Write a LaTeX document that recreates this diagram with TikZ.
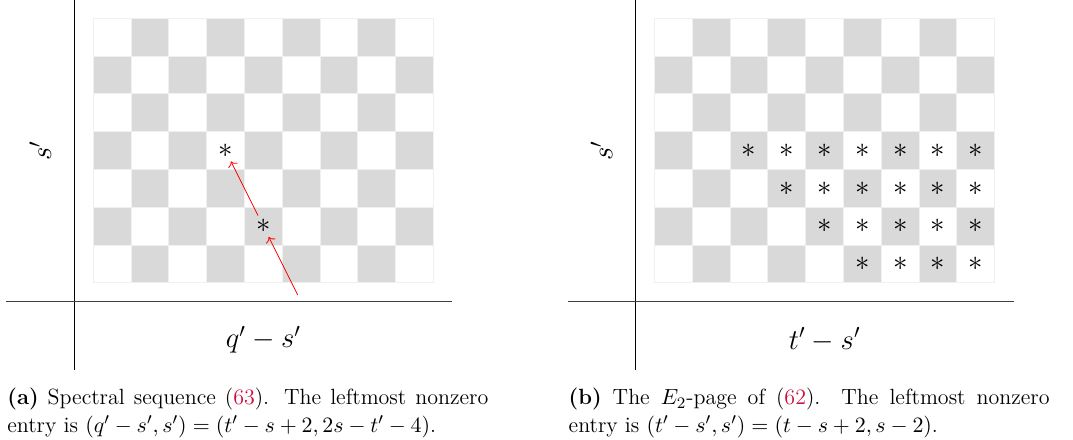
\documentclass[tikz,border=0pt]{standalone}
\usepackage{amsmath,amssymb}
\usepackage{xcolor}
\usepackage{tikz}
\usetikzlibrary{arrows.meta,positioning}
\definecolor{linkred}{rgb}{0.80,0.05,0.25}

\begin{document}
\begin{tikzpicture}[x=18.9pt,y=18.9pt,
entry/.style={font=\Large,inner sep=1.8pt},
axlabel/.style={font=\Large},
axisline/.style={line width=0.6pt},
capt/.style={text width=240.5pt,align=justify,inner sep=0pt,anchor=north west,font=\fontsize{11}{13.6}\selectfont}]
\useasboundingbox (-2.468,-4.153) rectangle (25.92,7.487);

% (a) spectral sequence
\foreach \i in {0,...,8}
  \foreach \j in {0,...,6}{
    \pgfmathtruncatemacro\shade{mod(\i+\j,2)}
    \ifnum\shade=1 \fill[black!15] (\i,\j) rectangle ++(1,1); \fi
  }
\draw[black!6,line width=0.5pt,step={(1,1)}] (0,0) grid (9,7);
\draw[axisline] (-0.5,7.5) -- (-0.5,-2.3);
\draw[axisline,black!75] (-2.3,-0.5) -- (9.5,-0.5);
\node[axlabel,rotate=90] (sa) at (-1.4,3.5) {$s'$};
\node[axlabel] (qa) at (4.5,-1.5) {$q'-s'$};
\node[entry] (a1) at (3.5,3.5) {$\ast$};
\node[entry] (a2) at (4.5,1.5) {$\ast$};
\node (a0) at (5.5,-0.5) {};
\draw[->,red] (a0)--(a2);
\draw[->,red] (a2)--(a1);
\node[capt] (capa) at (-2.283,-2.78) {\textbf{(a)} Spectral sequence (\textcolor{linkred}{63}). The leftmost nonzero\linebreak entry is $(q'-s',s')=(t'-s+2,2s-t'-4)$.};

% (b) E_2-page
\begin{scope}[shift={(14.85,0)}]
\foreach \i in {0,...,8}
  \foreach \j in {0,...,6}{
    \pgfmathtruncatemacro\shade{mod(\i+\j,2)}
    \ifnum\shade=1 \fill[black!15] (\i,\j) rectangle ++(1,1); \fi
  }
\draw[black!6,line width=0.5pt,step={(1,1)}] (0,0) grid (9,7);
\draw[axisline] (-0.5,7.5) -- (-0.5,-2.3);
\draw[axisline,black!75] (-2.3,-0.5) -- (9.5,-0.5);
\node[axlabel,rotate=90] (sb) at (-1.4,3.5) {$s'$};
\node[axlabel] (tb) at (4.5,-1.5) {$t'-s'$};
\foreach \j in {0,...,3}{
  \pgfmathtruncatemacro\first{5-\j}
  \foreach \i in {\first,...,8}
    \node[entry] (b-\i-\j) at (\i+0.5,\j+0.5) {$\ast$};
}
\node[capt] (capb) at (-2.283,-2.78) {\textbf{(b)} The $E_2$-page of (\textcolor{linkred}{62}). The leftmost nonzero\linebreak entry is $(t'-s',s')=(t-s+2,s-2)$.};
\end{scope}
\end{tikzpicture}
\end{document}
